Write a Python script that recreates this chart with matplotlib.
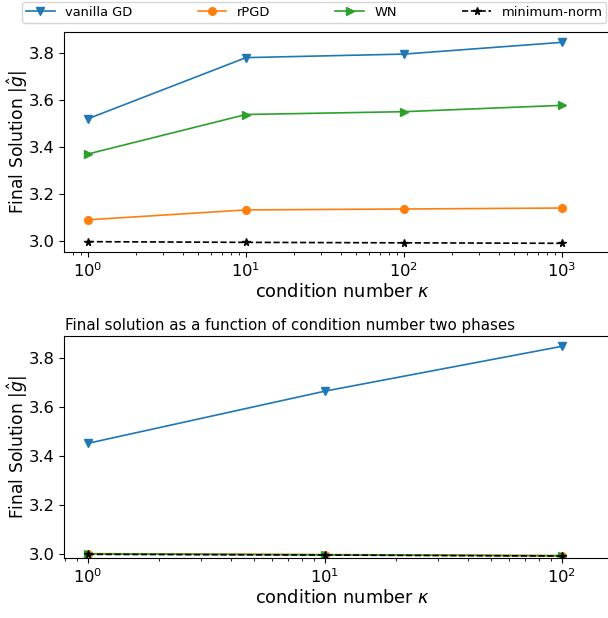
import matplotlib
matplotlib.use("Agg")
import matplotlib.pyplot as plt
import numpy as np

kappa_top = [1, 10, 100, 1000]
vanilla_top = [3.52, 3.78, 3.795, 3.845]
rpgd_top = [3.09, 3.132, 3.136, 3.14]
wn_top = [3.37, 3.538, 3.55, 3.577]
minnorm_top = [2.997, 2.994, 2.992, 2.990]

kappa_bot = [1, 10, 100]
vanilla_bot = [3.452, 3.665, 3.848]
rpgd_bot = [3.002, 2.998, 2.994]
wn_bot = [3.001, 2.997, 2.993]
minnorm_bot = [2.999, 2.996, 2.992]

labels = ["vanilla GD", "rPGD", "WN", "minimum-norm"]

W, H = 608, 618
fig = plt.figure(figsize=(W / 100, H / 100), dpi=100)

def px_axes(l, t, r, b):
    return [l / W, (H - b) / H, (r - l) / W, (b - t) / H]

RIGHT = 622
ax1 = fig.add_axes(px_axes(64, 32, RIGHT, 252))
ax2 = fig.add_axes(px_axes(64, 336, RIGHT, 558))

def draw(ax, k, v, r, w, m):
    ax.plot(k, v, marker="v", color="#1f77b4", lw=1.2, ms=5.5, label=labels[0])
    ax.plot(k, r, marker="o", color="#ff7f0e", lw=1.2, ms=5.5, label=labels[1])
    ax.plot(k, w, marker=">", color="#2ca02c", lw=1.2, ms=5.5, label=labels[2])
    ax.plot(k, m, marker="*", color="black", ls="--", lw=1.2, ms=5.5, label=labels[3])
    ax.set_xscale("log")
    ax.set_ylabel(r"Final Solution $|\hat{g}|$", fontsize=12.3)
    ax.yaxis.set_label_coords((30 - 64) / (RIGHT - 64), 0.5)
    ax.set_xlabel(r"condition number $\kappa$", fontsize=12.8, labelpad=2)
    ax.tick_params(labelsize=11.8)
    ax.set_yticks([3.0, 3.2, 3.4, 3.6, 3.8])

draw(ax1, kappa_top, vanilla_top, rpgd_top, wn_top, minnorm_top)
draw(ax2, kappa_bot, vanilla_bot, rpgd_bot, wn_bot, minnorm_bot)

ax1.set_xlim(10 ** (-24 / 158), 10 ** (3 + (RIGHT - 562) / 158))
ax1.set_ylim(2.953, 3.889)
ax2.set_xlim(10 ** (-24 / 237), 10 ** (2 + (RIGHT - 562) / 237))
ax2.set_ylim(2.984, 3.890)

ax2.text((290 - 64) / (RIGHT - 64), 1.015,
         "Final solution as a function of condition number two phases",
         transform=ax2.transAxes, ha="center", va="bottom", fontsize=10.8)

h, l = ax1.get_legend_handles_labels()
fig.legend(h, l, loc="upper left", ncol=4,
           bbox_to_anchor=(22 / W, 1 - 2 / H),
           fontsize=9.4, borderaxespad=0.0, handlelength=2.2,
           handletextpad=0.8, columnspacing=5.0, borderpad=0.3)

fig.savefig("out.png", dpi=100)
